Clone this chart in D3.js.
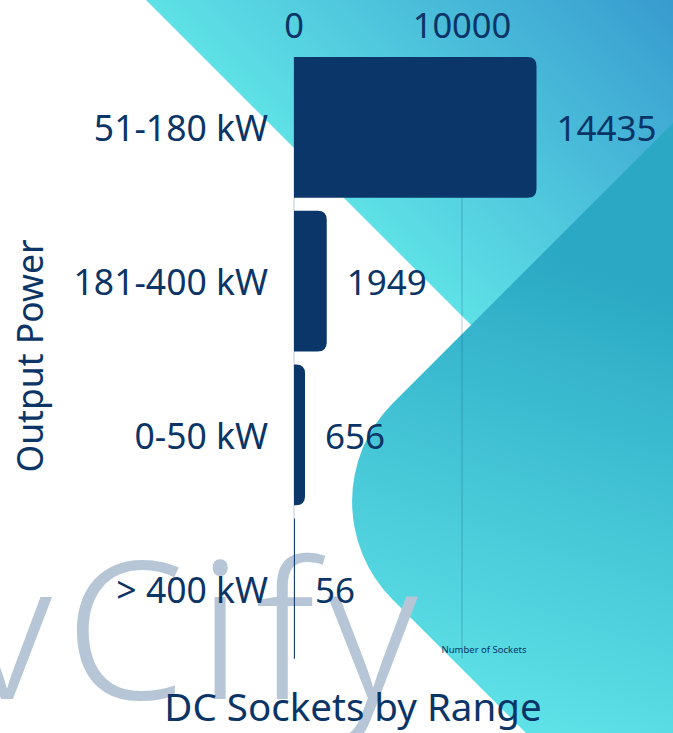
<!DOCTYPE html>
<html>
<head>
<meta charset="utf-8">
<script src="https://cdn.jsdelivr.net/npm/d3@7"></script>
<style>
  html, body { margin: 0; padding: 0; background: #fff; }
  svg { display: block; font-family: 'Noto Sans', sans-serif; }
</style>
</head>
<body>
<div id="chart"></div>
<script>
// data
var ranges = ['51-180 kW', '181-400 kW', '0-50 kW', '> 400 kW'];
var sockets = [14435, 1949, 656, 56];
var tickValues = [0, 10000];

var width = 673,
    height = 733,
    navy = '#0a3566';

var svg = d3.select('#chart').append('svg')
    .attr('width', width)
    .attr('height', height);

var defs = svg.append('defs');

var topGrad = defs.append('linearGradient')
    .attr('id', 'topGrad')
    .attr('gradientUnits', 'userSpaceOnUse')
    .attr('x1', 310).attr('y1', 164)
    .attr('x2', 570).attr('y2', -96);
topGrad.append('stop').attr('offset', 0).attr('stop-color', '#5ee1e6');
topGrad.append('stop').attr('offset', 1).attr('stop-color', '#389ccf');

var diamondGrad = defs.append('linearGradient')
    .attr('id', 'diamondGrad')
    .attr('gradientUnits', 'userSpaceOnUse')
    .attr('x1', 400).attr('y1', 700)
    .attr('x2', 550).attr('y2', 250);
diamondGrad.append('stop').attr('offset', 0).attr('stop-color', '#60e3e8');
diamondGrad.append('stop').attr('offset', 1).attr('stop-color', '#2aa8c4');

// background shapes
svg.append('rect')
    .attr('width', width)
    .attr('height', height)
    .attr('fill', '#fff');

svg.append('path')
    .attr('d', 'M146,0 L673,0 L673,527 Z')
    .attr('fill', 'url(#topGrad)');

// big rotated square with a rounded left corner
var cx = 294.5, cy = 501.5, rad = 139, k = Math.SQRT1_2;
var diamond = d3.path();
diamond.moveTo(cx + 1000 * k, cy - 1000 * k);
diamond.lineTo(cx + rad * k, cy - rad * k);
diamond.arcTo(cx, cy, cx + rad * k, cy + rad * k, rad);
diamond.lineTo(cx + 1000 * k, cy + 1000 * k);
diamond.closePath();

svg.append('path')
    .attr('d', diamond.toString())
    .attr('fill', 'url(#diamondGrad)');

// watermark
svg.append('text')
    .attr('x', -38)
    .attr('y', 699)
    .attr('font-size', 192)
    .attr('font-weight', 300)
    .attr('letter-spacing', 13)
    .attr('fill', '#b6c6d6')
    .text('vCify');

// scales
var x = d3.scaleLinear()
    .domain([0, 16000])
    .range([294, 294 + 16000 * 0.0168]);

var y = d3.scaleBand()
    .domain(ranges)
    .range([57, 659])
    .paddingInner(0.085);

// gridlines
svg.append('g')
    .selectAll('line')
    .data(tickValues)
    .join('line')
    .attr('x1', function(d) { return x(d); })
    .attr('x2', function(d) { return x(d); })
    .attr('y1', 57)
    .attr('y2', 659)
    .attr('stroke', navy)
    .attr('stroke-opacity', 0.25)
    .attr('stroke-width', 1);

// tick labels on top
svg.append('g')
    .selectAll('text')
    .data(tickValues)
    .join('text')
    .attr('x', function(d) { return x(d); })
    .attr('y', 38)
    .attr('text-anchor', 'middle')
    .attr('font-size', 34.5)
    .attr('fill', navy)
    .text(function(d) { return d; });

// bars, rounded on the right side
function barPath(d, i) {
    var x0 = x(0),
        x1 = x(d),
        y0 = y(ranges[i]),
        h = y.bandwidth(),
        r = Math.min(9, x1 - x0);
    return 'M' + x0 + ',' + y0 +
        'H' + (x1 - r) +
        'Q' + x1 + ',' + y0 + ' ' + x1 + ',' + (y0 + r) +
        'V' + (y0 + h - r) +
        'Q' + x1 + ',' + (y0 + h) + ' ' + (x1 - r) + ',' + (y0 + h) +
        'H' + x0 + 'Z';
}

svg.append('g')
    .selectAll('path')
    .data(sockets)
    .join('path')
    .attr('d', barPath)
    .attr('fill', '#0a366a');

// category labels
svg.append('g')
    .selectAll('text')
    .data(ranges)
    .join('text')
    .attr('x', 268)
    .attr('y', function(d) { return y(d) + y.bandwidth() / 2 + 14; })
    .attr('text-anchor', 'end')
    .attr('font-size', 35.5)
    .attr('fill', navy)
    .text(function(d) { return d; });

// value labels
svg.append('g')
    .selectAll('text')
    .data(sockets)
    .join('text')
    .attr('x', function(d) { return x(d) + 20; })
    .attr('y', function(d, i) { return y(ranges[i]) + y.bandwidth() / 2 + 14; })
    .attr('font-size', 35)
    .attr('fill', navy)
    .text(function(d) { return d; });

// axis titles
svg.append('text')
    .attr('transform', 'translate(43,356) rotate(-90)')
    .attr('text-anchor', 'middle')
    .attr('font-size', 35.5)
    .attr('fill', navy)
    .text('Output Power');

svg.append('text')
    .attr('x', 484)
    .attr('y', 653)
    .attr('text-anchor', 'middle')
    .attr('font-size', 9.5)
    .attr('fill', navy)
    .text('Number of Sockets');

// title
svg.append('text')
    .attr('x', 353)
    .attr('y', 721)
    .attr('text-anchor', 'middle')
    .attr('font-size', 38.5)
    .attr('fill', navy)
    .text('DC Sockets by Range');
</script>
</body>
</html>
